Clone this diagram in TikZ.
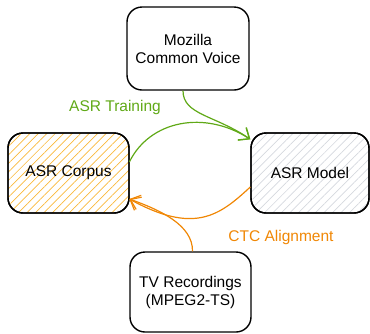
\documentclass[tikz,border=0pt]{standalone}
\usepackage{fontspec}
\setmainfont{Liberation Sans}
\usetikzlibrary{patterns.meta,arrows.meta}
\definecolor{dgreen}{HTML}{60A917}
\definecolor{dorange}{HTML}{F08705}
\definecolor{hatchyel}{HTML}{F9B83A}
\definecolor{hatchgray}{HTML}{D5D8DE}
\tikzset{
  box/.style={draw=black, line width=1.4pt, rounded corners=15pt, align=center, font=\fontsize{15.5}{18}\selectfont, inner sep=0pt},
  flow/.style={line width=1.2pt, -{Straight Barb[length=9pt,width=15pt,line width=1.2pt]}},
  lbl/.style={font=\fontsize{15.5}{18}\selectfont}
}
\begin{document}
\begin{tikzpicture}[x=1pt,y=-1pt]
\useasboundingbox (0,0) rectangle (370,333);
\node[box, minimum width=122pt, minimum height=83pt] (moz) at (188,48.5) {Mozilla\\Common Voice};
\node[box, minimum width=121pt, minimum height=80pt, pattern={Lines[angle=45,distance=6pt,line width=0.7pt]}, pattern color=hatchyel] (corp) at (68.5,173) {};
\node[box, minimum width=121pt, minimum height=80pt] at (68.5,173) {ASR Corpus};
\node[box, minimum width=118pt, minimum height=80pt, pattern={Lines[angle=45,distance=6pt,line width=0.7pt]}, pattern color=hatchgray] (model) at (310,173) {};
\node[box, minimum width=118pt, minimum height=80pt] at (310,173) {ASR Model};
\node[box, minimum width=121pt, minimum height=80pt] (tv) at (190.5,292) {TV Recordings\\(MPEG2-TS)};

\draw[flow, dgreen] ([xshift=-5pt]moz.south) .. controls (183,115) and (215,115) .. ([yshift=-7pt]model.north west);
\draw[flow, dgreen] ([yshift=11pt]corp.east) .. controls (150,120) and (205,110) .. ([yshift=-7pt]model.north west);
\draw[flow, dorange] ([yshift=-14pt]model.west) .. controls (220,215) and (195,235) .. ([yshift=-26pt]corp.east);
\draw[flow, dorange] ([xshift=2pt]tv.north) .. controls (193,225) and (160,210) .. ([yshift=-26pt]corp.east);

\node[lbl, text=dgreen] (lt) at (115,107) {ASR Training};
\node[lbl, text=dorange] (lc) at (281,237) {CTC Alignment};
\end{tikzpicture}
\end{document}
